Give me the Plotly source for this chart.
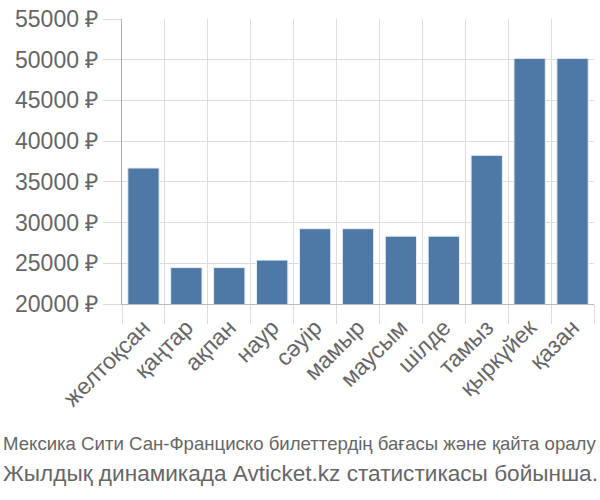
import plotly.graph_objects as go

months = ["желтоқсан", "қаңтар", "ақпан", "наур", "сәуір", "мамыр",
          "маусым", "шілде", "тамыз", "қыркүйек", "қазан"]
prices = [36700, 24470, 24470, 25390, 29250, 29250, 28330, 28330, 38260, 50170, 50170]
y_ticks = [20000, 25000, 30000, 35000, 40000, 45000, 50000, 55000]
y_labels = [f"{v} ₽" for v in y_ticks]
title_line1 = "Мексика Сити Сан-Франциско билеттердің бағасы және қайта оралу"
title_line2 = "Жылдық динамикада Avticket.kz статистикасы бойынша."

W, H = 600, 500
L, R, T, B = 122, 6, 14, 196
pw, ph = W - L - R, H - T - B

def px_x(x):
    return (x - L) / pw

def px_y(y):
    return (H - B - y) / ph

fig = go.Figure(go.Bar(
    x=months, y=prices,
    marker=dict(color="#4e78a6", line=dict(color="#e8eef5", width=1)),
))

fig.update_layout(
    width=W, height=H,
    margin=dict(l=L, r=R, t=T, b=B, pad=0),
    plot_bgcolor="white", paper_bgcolor="white",
    font=dict(family="Liberation Sans, Arial, sans-serif", color="#666666", size=23),
    bargap=0.27,
    showlegend=False,
    xaxis=dict(
        tickson="boundaries", ticks="outside", ticklen=19, tickcolor="#dddddd",
        showgrid=True, gridcolor="#dddddd", gridwidth=1,
        tickangle=-45, tickfont=dict(size=23, color="#666666"),
        showline=True, linecolor="#bbbbbb", linewidth=1,
    ),
    yaxis=dict(
        range=[20000, 55000], tickvals=y_ticks, ticktext=y_labels,
        ticks="outside", ticklen=18, tickcolor="#dddddd",
        showgrid=True, gridcolor="#dddddd", gridwidth=1,
        showline=True, linecolor="#aaaaaa", linewidth=1,
        tickfont=dict(size=23, color="#666666"),
        zeroline=False,
    ),
    annotations=[
        dict(text=title_line1, xref="paper", yref="paper",
             x=px_x(1), y=px_y(446), xanchor="left", yanchor="middle",
             showarrow=False,
             font=dict(family="Liberation Sans, Arial", size=18.6, color="#666666")),
        dict(text=title_line2, xref="paper", yref="paper",
             x=px_x(1), y=px_y(476), xanchor="left", yanchor="middle",
             showarrow=False,
             font=dict(family="Liberation Sans, Arial", size=22.6, color="#666666")),
    ],
)

fig.write_html("out.html")
